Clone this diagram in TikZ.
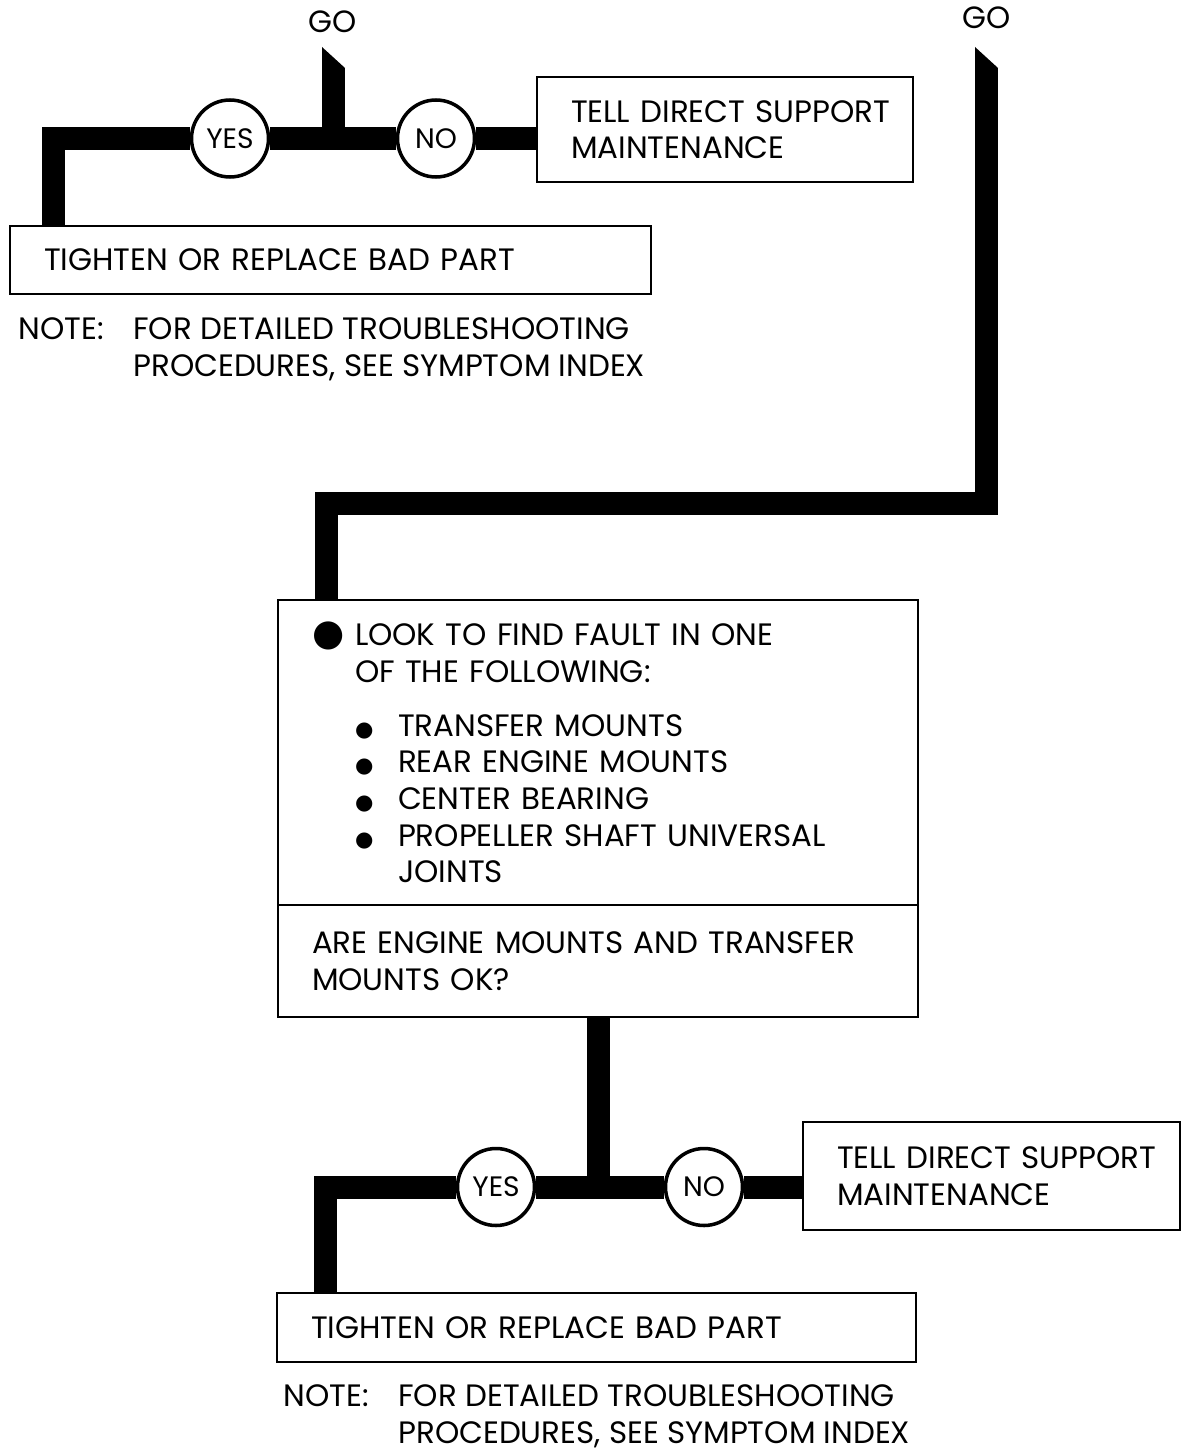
\documentclass[tikz,border=0pt]{standalone}
\usepackage{fontspec}
\setmainfont{Poppins}
\newfontfamily\dotfont{DejaVu Sans}
\usepackage{tikz}
\usetikzlibrary{positioning,calc}
\newcommand{\bigbul}{\makebox[0.86cm][l]{\dotfont\fontsize{21}{20}\selectfont ●}}
\newcommand{\smallbul}{\makebox[0.86cm][l]{\dotfont\fontsize{12}{20}\selectfont ●}}

\begin{document}
\begin{tikzpicture}[x=1cm,y=1cm,
  pipe/.style={line width=0.46cm,line join=miter},
  box/.style={draw,line width=1.4pt,inner xsep=0.68cm,inner ysep=0pt,align=left,
    font=\fontsize{17.6}{20.8}\selectfont},
  answer/.style={circle,draw,line width=2pt,fill=white,minimum size=1.54cm,inner sep=0pt,
    font=\fontsize{16}{18}\selectfont},
  golbl/.style={font=\fontsize{17.5}{18}\selectfont,inner sep=0pt},
  note/.style={align=left,inner sep=0pt,anchor=west,font=\fontsize{17.6}{20.8}\selectfont}]

  \useasboundingbox (0,0) rectangle (23.66,-29.04);

  \node[golbl] (golbl1) at (6.66,-0.44) {GO};
  \node[golbl] (golbl2) at (19.74,-0.36) {GO};
  \coordinate (go1) at (6.67,-1.36);
  \coordinate (go2) at (19.73,-1.36);

  \node[answer] (yes1) at (4.60,-2.77) {YES};
  \node[answer] (no1) at (8.72,-2.77) {NO};
  \node[box,text width=6.16cm,minimum height=2.10cm] (tds1) at (14.50,-2.59)
    {\mbox{TELL DIRECT SUPPORT}\\MAINTENANCE};
  \node[box,text width=11.46cm,minimum height=1.36cm] (tight1) at (6.61,-5.20)
    {TIGHTEN OR REPLACE BAD PART};
  \node[note] (note1) at (0.36,-6.99)
    {\makebox[2.30cm][l]{NOTE:}FOR DETAILED TROUBLESHOOTING\\
     \hspace*{2.30cm}PROCEDURES, SEE SYMPTOM INDEX};

  \node[box,text width=11.44cm,minimum height=6.10cm] (look) at (11.96,-15.05)
    {\bigbul LOOK TO FIND FAULT IN ONE\\
     \hspace*{0.86cm}OF THE FOLLOWING:\\[0.35cm]
     \hspace*{0.86cm}\smallbul TRANSFER MOUNTS\\
     \hspace*{0.86cm}\smallbul REAR ENGINE MOUNTS\\
     \hspace*{0.86cm}\smallbul CENTER BEARING\\
     \hspace*{0.86cm}\smallbul PROPELLER SHAFT UNIVERSAL\\
     \hspace*{1.72cm}JOINTS};
  \node[box,text width=11.44cm,minimum height=2.24cm] (ask) at (11.96,-19.22)
    {ARE ENGINE MOUNTS AND TRANSFER\\MOUNTS OK?};

  \node[answer] (yes2) at (9.92,-23.74) {YES};
  \node[answer] (no2) at (14.08,-23.74) {NO};
  \node[box,text width=6.18cm,minimum height=2.16cm] (tds2) at (19.83,-23.52)
    {\mbox{TELL DIRECT SUPPORT}\\MAINTENANCE};
  \node[box,text width=11.42cm,minimum height=1.38cm] (tight2) at (11.93,-26.55)
    {TIGHTEN OR REPLACE BAD PART};
  \node[note] (note2) at (5.66,-28.32)
    {\makebox[2.30cm][l]{NOTE:}FOR DETAILED TROUBLESHOOTING\\
     \hspace*{2.30cm}PROCEDURES, SEE SYMPTOM INDEX};

  \fill ([xshift=-0.23cm]go1) -- ++(0,0.42) -- ++(0.46,-0.42) -- cycle;
  \fill ([xshift=-0.23cm]go2) -- ++(0,0.42) -- ++(0.46,-0.42) -- cycle;

  \draw[pipe] (go1) -- (go1 |- yes1);
  \draw[pipe] (yes1) -- (no1);
  \draw[pipe] (no1) -- (no1 -| tds1.west);
  \draw[pipe] (yes1) -| ([xshift=0.89cm]tight1.north west);

  \coordinate (bend) at (6.53,-10.07);
  \draw[pipe] (go2) |- (bend) -- (bend |- look.north);

  \draw[pipe] (ask.south) -- (ask.south |- yes2);
  \draw[pipe] (yes2) -- (no2);
  \draw[pipe] (no2) -- (no2 -| tds2.west);
  \draw[pipe] (yes2) -| ([xshift=0.99cm]tight2.north west);
\end{tikzpicture}
\end{document}
